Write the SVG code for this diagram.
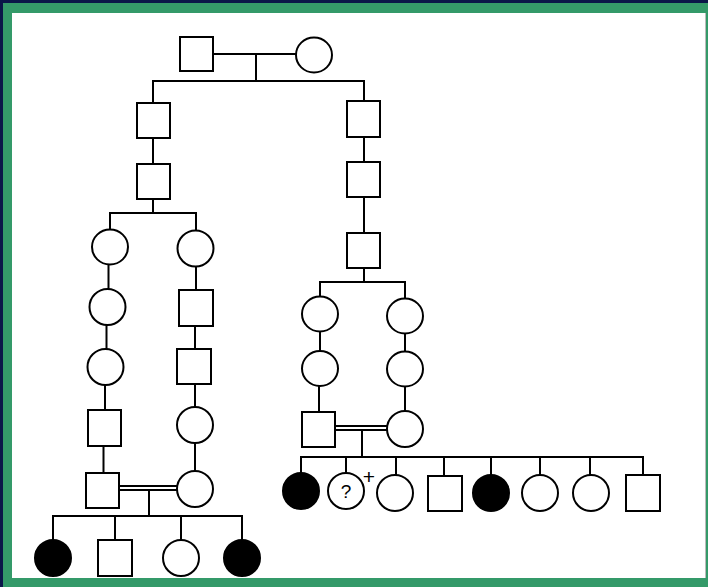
<svg xmlns="http://www.w3.org/2000/svg" width="708" height="587" viewBox="0 0 708 587">
<style>
.m{fill:#fff;stroke:#000;stroke-width:2}
.f{fill:#000;stroke:#000;stroke-width:2}
.c line,.c path{stroke:#000;stroke-width:2;fill:none}
.t{font-family:"Liberation Sans",Arial,sans-serif;fill:#000}
</style>
<rect x="0" y="0" width="708" height="587" fill="#0a1648"/>
<rect x="3" y="3" width="705" height="584" fill="#349a69"/>
<rect x="12" y="13" width="693" height="565" fill="#fff"/>
<line x1="705.5" y1="13" x2="705.5" y2="578" stroke="#bbb" stroke-width="1"/>
<g id="connectors" class="c">
<line x1="213" y1="54" x2="296" y2="54"/>
<line x1="256" y1="54" x2="256" y2="81"/>
<path d="M153,103 V81 H364 V101"/>
<line x1="153" y1="138" x2="153" y2="164"/>
<line x1="364" y1="137" x2="364" y2="162"/>
<line x1="364" y1="197" x2="364" y2="233"/>
<path d="M153,199 V213"/>
<path d="M110,229 V213 H196 V231"/>
<line x1="108.5" y1="264" x2="108.5" y2="289"/>
<line x1="106.5" y1="325" x2="106.5" y2="349"/>
<line x1="105" y1="385" x2="105" y2="410"/>
<line x1="103.5" y1="446" x2="103.5" y2="473"/>
<line x1="196" y1="267" x2="196" y2="290"/>
<line x1="195" y1="326" x2="195" y2="349"/>
<line x1="195" y1="384" x2="195" y2="407"/>
<line x1="195" y1="443" x2="195" y2="471"/>
<line x1="119" y1="486" x2="177" y2="486"/>
<line x1="119" y1="490" x2="177" y2="490"/>
<line x1="149" y1="490" x2="149" y2="516"/>
<path d="M53,540 V516 H242 V540"/>
<line x1="115" y1="516" x2="115" y2="540"/>
<line x1="181" y1="516" x2="181" y2="540"/>
<line x1="364" y1="268" x2="364" y2="282"/>
<path d="M320,297 V282 H405 V299"/>
<line x1="320" y1="331" x2="320" y2="351"/>
<line x1="405" y1="333" x2="405" y2="352"/>
<line x1="319" y1="386" x2="319" y2="412"/>
<line x1="405" y1="386" x2="405" y2="411"/>
<line x1="335" y1="426" x2="387" y2="426"/>
<line x1="335" y1="430" x2="387" y2="430"/>
<line x1="362" y1="430" x2="362" y2="457"/>
<path d="M301,473 V457 H643 V475"/>
<line x1="346" y1="457" x2="346" y2="473"/>
<line x1="396" y1="457" x2="396" y2="475"/>
<line x1="444" y1="457" x2="444" y2="476"/>
<line x1="491" y1="457" x2="491" y2="475"/>
<line x1="540" y1="457" x2="540" y2="475"/>
<line x1="590" y1="457" x2="590" y2="475"/>
</g>
<g id="g1-father"><rect class="m" x="180" y="37" width="33" height="34"/></g>
<g id="g1-mother"><ellipse class="m" cx="314" cy="55" rx="18" ry="17.5"/></g>
<g id="g2-left"><rect class="m" x="137" y="103" width="33" height="35"/></g>
<g id="g3-left"><rect class="m" x="137" y="164" width="33" height="35"/></g>
<g id="g2-right"><rect class="m" x="347" y="101" width="33" height="36"/></g>
<g id="g3-right"><rect class="m" x="347" y="162" width="33" height="35"/></g>
<g id="g4-right"><rect class="m" x="347" y="233" width="33" height="35"/></g>
<g id="l4a"><ellipse class="m" cx="110" cy="247" rx="18" ry="17.5"/></g>
<g id="l5a"><ellipse class="m" cx="107.5" cy="307" rx="18" ry="18"/></g>
<g id="l6a"><ellipse class="m" cx="105.5" cy="367" rx="18" ry="18"/></g>
<g id="l7a"><rect class="m" x="88" y="410" width="33" height="36"/></g>
<g id="l8a"><rect class="m" x="86" y="473" width="33" height="35"/></g>
<g id="l4b"><ellipse class="m" cx="195.5" cy="248.5" rx="18" ry="18"/></g>
<g id="l5b"><rect class="m" x="179" y="290" width="34" height="36"/></g>
<g id="l6b"><rect class="m" x="177" y="349" width="34" height="35"/></g>
<g id="l7b"><ellipse class="m" cx="195" cy="425" rx="18" ry="18"/></g>
<g id="l8b"><ellipse class="m" cx="195" cy="489" rx="18" ry="18"/></g>
<g id="l9-1"><circle class="f" cx="53" cy="558" r="18"/></g>
<g id="l9-2"><rect class="m" x="98" y="540" width="34" height="36"/></g>
<g id="l9-3"><circle class="m" cx="181" cy="558" r="18"/></g>
<g id="l9-4"><circle class="f" cx="242" cy="558" r="18"/></g>
<g id="r5a"><ellipse class="m" cx="320" cy="314" rx="18" ry="17.5"/></g>
<g id="r5b"><ellipse class="m" cx="405" cy="316" rx="18" ry="17.5"/></g>
<g id="r6a"><ellipse class="m" cx="320" cy="368.5" rx="18" ry="17.5"/></g>
<g id="r6b"><ellipse class="m" cx="405" cy="369" rx="18" ry="17.5"/></g>
<g id="r7a"><rect class="m" x="302" y="412" width="33" height="35"/></g>
<g id="r7b"><ellipse class="m" cx="405" cy="429" rx="18" ry="18"/></g>
<g id="r8-1"><circle class="f" cx="301" cy="491" r="18"/></g>
<g id="r8-2"><circle class="m" cx="346" cy="491" r="18"/><text class="t" x="346" y="498" font-size="19" text-anchor="middle">?</text></g>
<g id="plus"><text class="t" x="369" y="484" font-size="21" text-anchor="middle">+</text></g>
<g id="r8-3"><circle class="m" cx="395" cy="493" r="18"/></g>
<g id="r8-4"><rect class="m" x="428" y="476" width="34" height="35"/></g>
<g id="r8-5"><circle class="f" cx="491" cy="493" r="18"/></g>
<g id="r8-6"><circle class="m" cx="540" cy="493" r="18"/></g>
<g id="r8-7"><circle class="m" cx="591" cy="493" r="18"/></g>
<g id="r8-8"><rect class="m" x="626" y="475" width="34" height="36"/></g>
</svg>
